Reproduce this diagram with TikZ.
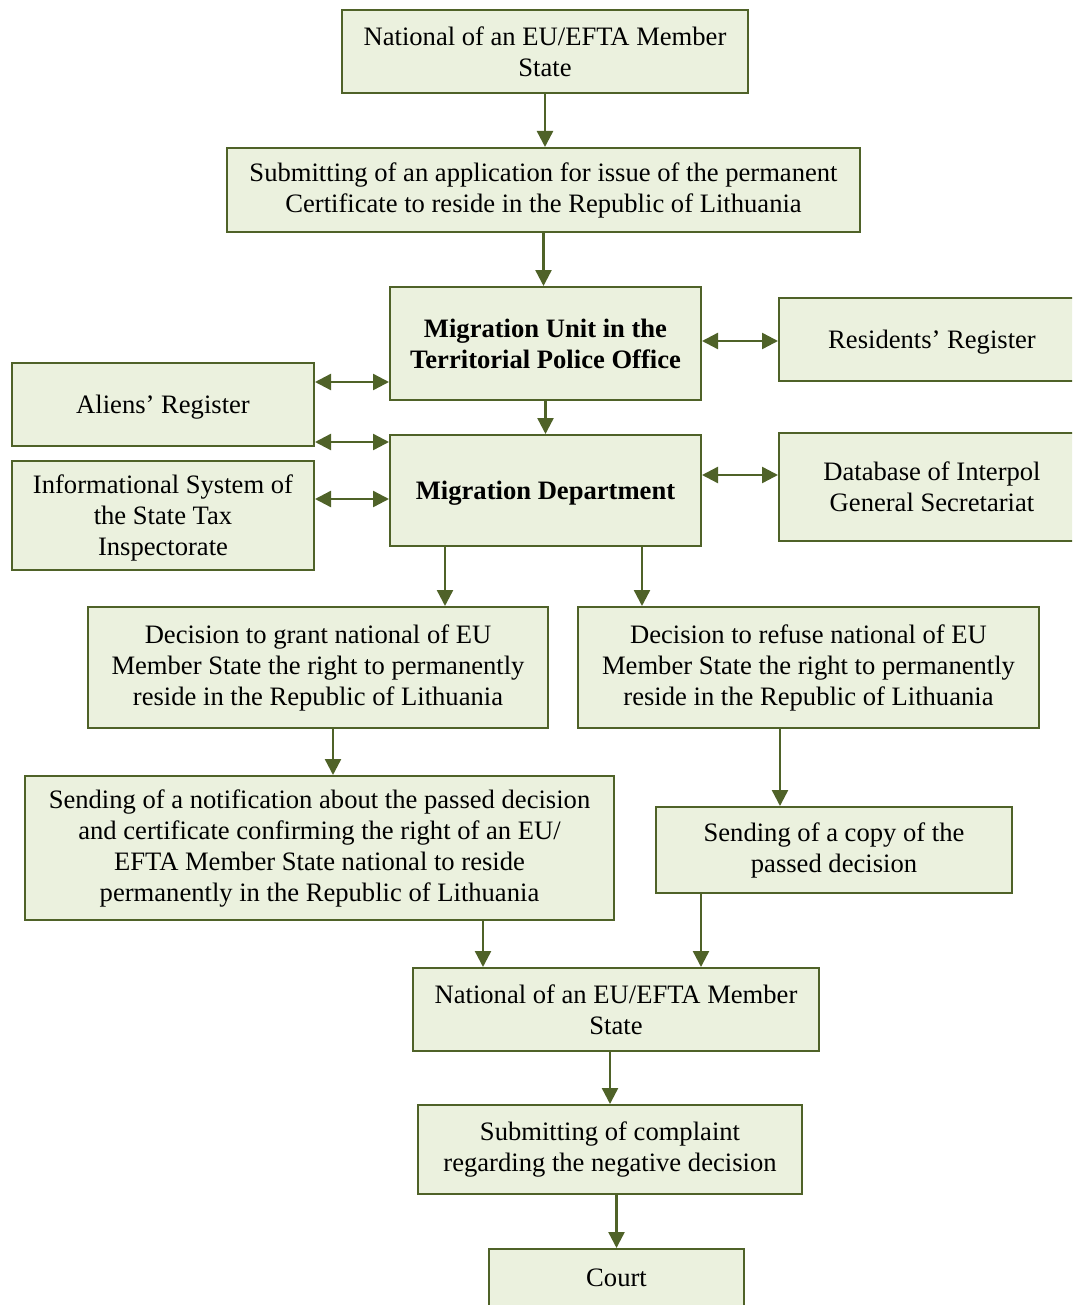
\documentclass[tikz,border=0pt]{standalone}
\usepackage{fontspec}
\setmainfont{Liberation Serif}
\usetikzlibrary{arrows.meta}
\definecolor{boxfill}{HTML}{EBF1DE}
\definecolor{boxline}{HTML}{4F6228}
\tikzset{
  box/.style={draw=boxline, fill=boxfill, line width=1pt, align=center, inner sep=2pt,
    font=\fontsize{13.3}{15.5}\selectfont},
  link/.style={draw=boxline, line width=1.2pt, -{Triangle[length=8pt,width=8pt]}},
  dlink/.style={draw=boxline, line width=1.2pt, {Triangle[length=8pt,width=8pt]}-{Triangle[length=8pt,width=8pt]}}
}
\begin{document}
\begin{tikzpicture}[x=0.5pt, y=-0.5pt]
            \useasboundingbox (0,0) rectangle (1072,1305);
            \clip (0,0) rectangle (1072,1305);
            \node[box, minimum width=203pt, minimum height=41.5pt] (nat) at (545,51.5) {National of an EU/EFTA Member\\State};
            \node[box, minimum width=316.5pt, minimum height=42pt] (submit) at (543.5,190) {Submitting of an application for issue of the permanent\\Certificate to reside in the Republic of Lithuania};
            \node[box, minimum width=155.5pt, minimum height=56.5pt, font=\fontsize{13.3}{15.5}\selectfont\bfseries] (mu) at (545.5,343.5) {Migration Unit in the\\Territorial Police Office};
            \node[box, minimum width=153pt, minimum height=41.5pt, text depth=0pt] (res) at (932,339.5) {Residents’ Register};
            \node[box, minimum width=151pt, minimum height=41.5pt, text depth=0pt] (aliens) at (163,404.5) {Aliens’ Register};
            \node[box, minimum width=155.5pt, minimum height=55.5pt, text depth=0pt, font=\fontsize{13.3}{15.5}\selectfont\bfseries] (md) at (545.5,490.5) {Migration Department};
            \node[box, minimum width=153pt, minimum height=54pt] (interpol) at (932,487) {Database of Interpol\\General Secretariat};
            \node[box, minimum width=151pt, minimum height=54.5pt, text depth=0pt] (tax) at (163,515.5) {Informational System of\\the State Tax\\Inspectorate};
            \node[box, minimum width=230pt, minimum height=60.5pt] (grant) at (318,667.5) {Decision to grant national of EU\\Member State the right to permanently\\reside in the Republic of Lithuania};
            \node[box, minimum width=230.5pt, minimum height=60.5pt] (refuse) at (808.5,667.5) {Decision to refuse national of EU\\Member State the right to permanently\\reside in the Republic of Lithuania};
            \node[box, minimum width=294.5pt, minimum height=72pt] (notice) at (319.5,848) {Sending of a notification about the passed decision\\and certificate confirming the right of an EU/\\EFTA Member State national to reside\\permanently in the Republic of Lithuania};
            \node[box, minimum width=178pt, minimum height=43pt] (copy) at (834,850) {Sending of a copy of the\\passed decision};
            \node[box, minimum width=203pt, minimum height=41.5pt] (natb) at (616,1009.5) {National of an EU/EFTA Member\\State};
            \node[box, minimum width=192pt, minimum height=44.5pt] (complaint) at (610,1149.5) {Submitting of complaint\\regarding the negative decision};
            \node[box, minimum width=127.5pt, minimum height=29pt] (court) at (616.5,1278) {Court};
            \draw[link] (nat.south) -- (nat.south |- submit.north);
            \draw[link] (submit.south) -- (submit.south |- mu.north);
            \draw[link] (mu.south) -- (md.north);
            \path ([yshift=1.25pt]mu.east) coordinate (m1);
            \draw[dlink] (m1) -- (m1 -| res.west);
            \path ([yshift=-10pt]aliens.north east) coordinate (a1);
            \draw[dlink] (a1) -- (a1 -| mu.west);
            \path ([yshift=2.5pt]aliens.south east) coordinate (a2);
            \draw[dlink] (a2) -- (a2 -| md.west);
            \path ([yshift=-19.5pt]tax.north east) coordinate (t1);
            \draw[dlink] (t1) -- (t1 -| md.west);
            \path ([yshift=-20.5pt]md.north east) coordinate (d1);
            \draw[dlink] (d1) -- (d1 -| interpol.west);
            \path ([xshift=28pt]md.south west) coordinate (d2);
            \draw[link] (d2) -- (d2 |- grant.north);
            \path ([xshift=-30pt]md.south east) coordinate (d3);
            \draw[link] (d3) -- (d3 |- refuse.north);
            \path ([xshift=7.5pt]grant.south) coordinate (g1);
            \draw[link] (g1) -- (g1 |- notice.north);
            \path ([xshift=-14.25pt]refuse.south) coordinate (r1);
            \draw[link] (r1) -- (r1 |- copy.north);
            \path ([xshift=-66pt]notice.south east) coordinate (n1);
            \draw[link] (n1) -- (n1 |- natb.north);
            \path ([xshift=23pt]copy.south west) coordinate (c1);
            \draw[link] (c1) -- (c1 |- natb.north);
            \draw[link] (natb.south -| complaint.north) -- (complaint.north);
            \draw[link] (complaint.south -| court.north) -- (court.north);
\end{tikzpicture}
\end{document}
